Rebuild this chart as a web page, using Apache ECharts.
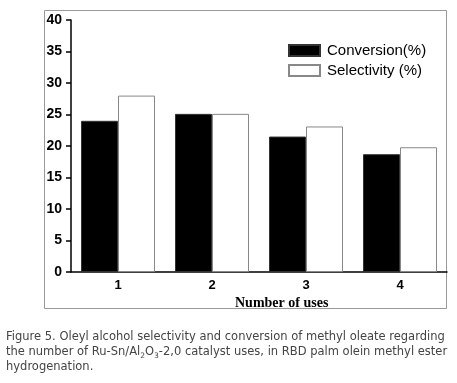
<!DOCTYPE html>
<html>
<head>
<meta charset="utf-8">
<script src="https://cdn.jsdelivr.net/npm/echarts@6/dist/echarts.min.js"></script>
<style>
  html, body { margin: 0; padding: 0; background: #fff; }
  #chart { width: 457px; height: 383px; }
</style>
</head>
<body>
<div id="chart"></div>
<script>
var categories = ["1", "2", "3", "4"];
var conversion = [24.0, 25.1, 21.5, 18.7];
var selectivity = [28.0, 25.1, 23.1, 19.8];
var yTicks = { min: 0, max: 40, interval: 5 };

var chart = echarts.init(document.getElementById("chart"));

var option = {
  animation: false,
  backgroundColor: "#fff",
  textStyle: { fontFamily: "Liberation Sans, Arial, sans-serif" },
  grid: { left: 71, right: 10, top: 20, bottom: 111 },
  title: [
    {
      text: "Number of uses",
      left: 235,
      top: 296,
      padding: 0,
      textStyle: {
        fontFamily: "Liberation Serif, Times New Roman, serif",
        fontWeight: "bold",
        fontSize: 14,
        color: "#000",
      },
    },
    {
      text:
        "Figure 5. Oleyl alcohol selectivity and conversion of methyl oleate regarding\n" +
        "the number of Ru-Sn/Al{sub|2}O{sub|3}-2,0 catalyst uses, in RBD palm olein methyl ester\n" +
        "hydrogenation.",
      left: 6,
      top: 330,
      padding: 0,
      textStyle: {
        fontFamily: "DejaVu Sans, sans-serif",
        fontWeight: "normal",
        fontSize: 11.5,
        lineHeight: 15,
        color: "#444",
        rich: {
          sub: { fontSize: 7.5, verticalAlign: "bottom", padding: [6, 0, 0, 0], color: "#444" },
        },
      },
    },
  ],
  legend: {
    orient: "vertical",
    left: 288,
    top: 43,
    padding: 0,
    itemWidth: 31,
    itemHeight: 11,
    itemGap: 5,
    icon: "rect",
    textStyle: { fontSize: 15, color: "#000", padding: [0, 0, 0, 2] },
    data: ["Conversion(%)", "Selectivity (%)"],
  },
  xAxis: {
    type: "category",
    data: categories,
    axisLine: { lineStyle: { color: "#000", width: 1.5 } },
    axisTick: { show: false },
    axisLabel: { color: "#000", fontWeight: "bold", fontSize: 13, margin: 7 },
  },
  yAxis: {
    type: "value",
    min: yTicks.min,
    max: yTicks.max,
    interval: yTicks.interval,
    axisLine: { show: true, lineStyle: { color: "#000", width: 1.5 } },
    axisTick: { show: true, length: 5, lineStyle: { color: "#000", width: 1.5 } },
    axisLabel: { color: "#000", fontWeight: "bold", fontSize: 14, margin: 9 },
    splitLine: { show: false },
  },
  series: [
    {
      name: "Conversion(%)",
      type: "bar",
      data: conversion,
      barWidth: 37,
      barGap: "0%",
      itemStyle: { color: "#000", borderColor: "#333", borderWidth: 1 },
    },
    {
      name: "Selectivity (%)",
      type: "bar",
      data: selectivity,
      barWidth: 37,
      barGap: "0%",
      itemStyle: { color: "#fff", borderColor: "#888", borderWidth: 1 },
    },
  ],
  graphic: [
    {
      type: "rect",
      shape: { x: 44.5, y: 10.5, width: 402, height: 298 },
      style: { fill: "none", stroke: "#999", lineWidth: 1 },
      silent: true,
      z: -1,
    },
  ],
};

chart.setOption(option);
</script>
</body>
</html>
